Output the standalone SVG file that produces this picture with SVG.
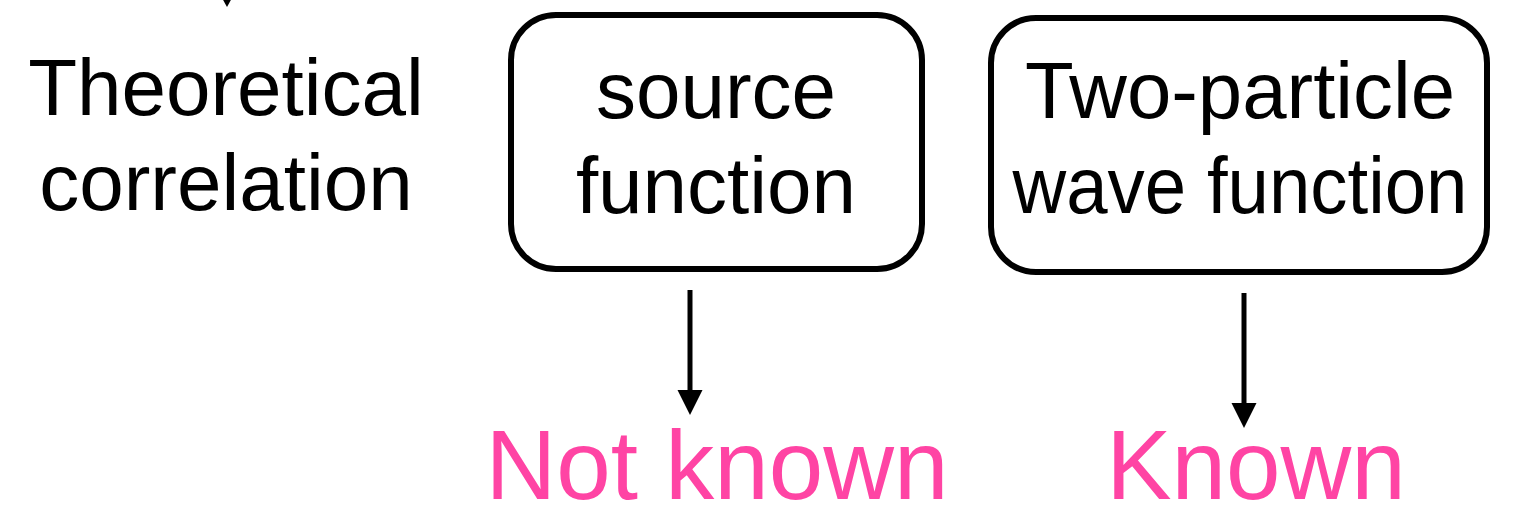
<svg xmlns="http://www.w3.org/2000/svg" width="1538" height="520" viewBox="0 0 1538 520">
  <defs>
    <style>
      .t { font-family: "Liberation Sans", Arial, Helvetica, sans-serif; font-size: 80px; fill: #000; text-anchor: middle; }
      .p { font-family: "Liberation Sans", Arial, Helvetica, sans-serif; font-size: 98px; fill: #ff44a4; text-anchor: middle; }
      .box { fill: #fff; stroke: #000; stroke-width: 6; }
      .conn { stroke: #000; stroke-width: 5; fill: none; }
      .head { fill: #000; }
    </style>
  </defs>
  <rect width="1538" height="520" fill="#fff"/>
  <g id="connectors">
    <path class="head" d="M222,-2 L232,-2 L227,7 Z"/>
    <line class="conn" x1="690" y1="290" x2="690" y2="392"/>
    <path class="head" d="M677.5,390 L702.5,390 L690,415 Z"/>
    <line class="conn" x1="1244" y1="293" x2="1244" y2="405"/>
    <path class="head" d="M1231.5,403 L1256.5,403 L1244,428 Z"/>
  </g>
  <g id="theoretical">
    <text class="t" x="226" y="115">Theoretical</text>
    <text class="t" x="226" y="210">correlation</text>
  </g>
  <g id="source">
    <rect class="box" x="511" y="15" width="411" height="254" rx="45"/>
    <text class="t" x="716" y="118">source</text>
    <text class="t" x="716" y="213">function</text>
  </g>
  <g id="wave">
    <rect class="box" x="991" y="18" width="496" height="254" rx="45"/>
    <text class="t" x="1240" y="118" textLength="430" lengthAdjust="spacingAndGlyphs">Two-particle</text>
    <text class="t" x="1240" y="213" textLength="455" lengthAdjust="spacingAndGlyphs">wave function</text>
  </g>
  <g id="notknown">
    <text class="p" x="717" y="499">Not known</text>
  </g>
  <g id="known">
    <text class="p" x="1256" y="499">Known</text>
  </g>
</svg>
